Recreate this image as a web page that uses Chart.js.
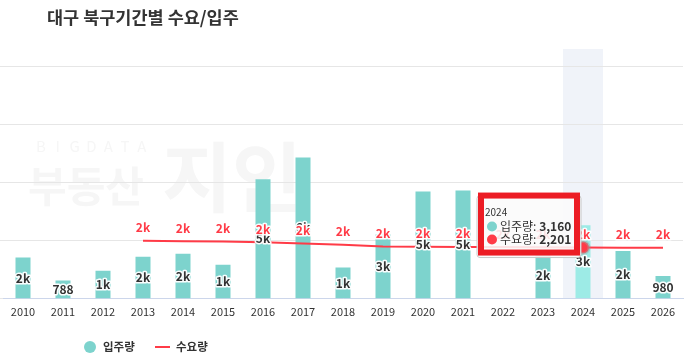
<!DOCTYPE html>
<html>
<head>
<meta charset="utf-8">
<script src="https://cdn.jsdelivr.net/npm/chart.js@4.4.0/dist/chart.umd.min.js"></script>
<style>
  html, body { margin: 0; padding: 0; background: #fff; }
  #wrap { position: relative; width: 684px; height: 361px; }
</style>
</head>
<body>
<div id="wrap"><canvas id="chart"></canvas></div>
<script>
const years = ["2010", "2011", "2012", "2013", "2014", "2015", "2016", "2017", "2018",
  "2019", "2020", "2021", "2022", "2023", "2024", "2025", "2026"];
// 입주량 (bars)
const supply = [1770, 788, 1210, 1810, 1940, 1460, 5130, 6070, 1340, 2760, 4610, 4650, null, 1980, 3160, 2050, 980];
// 수요량 (line)
const demand = [null, null, null, 2490, 2475, 2460, 2430, 2380, 2320, 2250, 2240, 2230, 2220, 2210, 2201, 2195, 2190];
const yTicks = [0, 2500, 5000, 7500, 10000];

const titleText = "대구 북구기간별 수요/입주";
const activeIdx = years.indexOf("2024");

const FONT = '"Noto Sans CJK KR", "Noto Sans", sans-serif';
const barColor = "#7dd3cd";
const barHover = "#9debe6";
const lineColor = "#ff3b47";

function shortNum(v) {
  if (v < 1000) return String(v);
  return Math.round(v / 1000) + "k";
}

function haloText(ctx, text, x, y, color) {
  ctx.lineJoin = "round";
  ctx.strokeStyle = "rgba(255,255,255,0.95)";
  ctx.lineWidth = 3;
  ctx.strokeText(text, x, y);
  ctx.fillStyle = color;
  ctx.fillText(text, x, y);
}

const backdrop = {
  id: "backdrop",
  beforeDraw(chart) {
    const { ctx, chartArea, scales } = chart;
    ctx.save();
    // watermark
    ctx.fillStyle = "#f6f6f6";
    ctx.textBaseline = "alphabetic";
    ctx.textAlign = "center";
    ctx.font = "15px " + FONT;
    const letters = "BIGDATA";
    for (let i = 0; i < letters.length; i++) ctx.fillText(letters[i], 41 + i * 16.8, 152);
    ctx.textAlign = "left";
    ctx.font = "bold 42px " + FONT;
    ctx.fillText("부동산", 28, 202);
    ctx.font = "bold 76px " + FONT;
    ctx.fillText("지인", 162, 206);
    // hover band
    const x = scales.x.getPixelForValue(activeIdx);
    const w = (chartArea.right - chartArea.left) / years.length;
    ctx.fillStyle = "#f0f3f9";
    ctx.fillRect(x - w / 2, chartArea.top - 17, w, chartArea.bottom - chartArea.top + 17);
    ctx.restore();
  }
};

const labels = {
  id: "labels",
  afterDatasetsDraw(chart) {
    const { ctx } = chart;
    ctx.save();
    ctx.textAlign = "center";
    ctx.textBaseline = "middle";
    ctx.font = "600 12px " + FONT;
    chart.getDatasetMeta(0).data.forEach((el, i) => {
      if (supply[i] == null) return;
      haloText(ctx, shortNum(supply[i]), el.x, (el.y + el.base) / 2, "#333");
    });
    chart.getDatasetMeta(1).data.forEach((el, i) => {
      if (demand[i] == null) return;
      haloText(ctx, shortNum(demand[i]), el.x, el.y - 13, lineColor);
    });
    ctx.restore();
  },
  afterDraw(chart) {
    const { ctx } = chart;
    ctx.save();
    // title
    ctx.fillStyle = "#333";
    ctx.font = "600 17.5px " + FONT;
    ctx.textBaseline = "middle";
    ctx.textAlign = "left";
    ctx.fillText(titleText, 47, 17);

    // legend
    const ly = 347;
    ctx.font = "bold 11.5px " + FONT;
    ctx.fillStyle = barColor;
    ctx.beginPath();
    ctx.arc(90, ly, 6, 0, Math.PI * 2);
    ctx.fill();
    ctx.fillStyle = "#333";
    ctx.fillText(chart.data.datasets[0].label, 103, ly);
    ctx.strokeStyle = lineColor;
    ctx.lineWidth = 2;
    ctx.beginPath();
    ctx.moveTo(155, ly);
    ctx.lineTo(170, ly);
    ctx.stroke();
    ctx.fillStyle = "#333";
    ctx.fillText(chart.data.datasets[1].label, 176, ly);

    // tooltip for active year
    const pt = chart.getDatasetMeta(1).data[activeIdx];
    const bx = pt.x - 106, by = pt.y - 52, bw = 104, bh = 62;
    ctx.fillStyle = "rgba(250,250,250,0.88)";
    ctx.strokeStyle = "#c8c8c8";
    ctx.lineWidth = 1;
    ctx.beginPath();
    ctx.roundRect(bx, by, bw, bh, 3);
    ctx.fill();
    ctx.stroke();
    ctx.fillStyle = "#333";
    ctx.font = "10px " + FONT;
    ctx.fillText(years[activeIdx], bx + 8, by + 17);
    const rows = [
      [barColor, chart.data.datasets[0].label, supply[activeIdx]],
      [lineColor, chart.data.datasets[1].label, demand[activeIdx]]
    ];
    rows.forEach((r, k) => {
      const ry = by + 31 + k * 13;
      ctx.fillStyle = r[0];
      ctx.beginPath();
      ctx.arc(bx + 15, ry, 5, 0, Math.PI * 2);
      ctx.fill();
      ctx.fillStyle = "#333";
      ctx.font = "12px " + FONT;
      const lab = r[1] + ": ";
      ctx.fillText(lab, bx + 23, ry);
      const lw = ctx.measureText(lab).width;
      ctx.font = "bold 12px " + FONT;
      ctx.fillText(r[2].toLocaleString("en-US"), bx + 23 + lw, ry);
    });
    // red annotation box
    ctx.strokeStyle = "#ec1c24";
    ctx.lineWidth = 6;
    ctx.strokeRect(bx + 4, by, bw - 8, bh - 5);
    ctx.restore();
  }
};

new Chart(document.getElementById("chart"), {
  data: {
    labels: years,
    datasets: [
      {
        type: "bar",
        label: "입주량",
        data: supply,
        order: 1,
        backgroundColor: years.map((y, i) => (i === activeIdx ? barHover : barColor)),
        categoryPercentage: 1,
        barPercentage: 0.375
      },
      {
        type: "line",
        label: "수요량",
        data: demand,
        order: 0,
        borderColor: lineColor,
        borderWidth: 2,
        backgroundColor: lineColor,
        pointRadius: years.map((y, i) => (i === activeIdx ? 6 : 0)),
        pointBorderColor: "rgba(160,160,160,0.45)",
        pointBorderWidth: 3,
        tension: 0
      }
    ]
  },
  options: {
    responsive: true,
    maintainAspectRatio: false,
    animation: false,
    events: [],
    layout: { padding: { top: 66, bottom: 37, left: 0, right: 1 } },
    plugins: {
      legend: { display: false },
      tooltip: { enabled: false },
      title: { display: false }
    },
    scales: {
      x: {
        grid: { color: "transparent", drawOnChartArea: false, drawTicks: false },
        border: { display: true, color: "#ccd6eb", width: 1 },
        ticks: { color: "#333", font: { family: FONT, size: 11 }, padding: 6, maxRotation: 0 }
      },
      y: {
        min: 0,
        max: 10000,
        afterBuildTicks(axis) { axis.ticks = yTicks.map(v => ({ value: v })); },
        grid: { color: "#e6e6e6", tickLength: 3, drawTicks: true },
        border: { display: false },
        ticks: { display: false }
      }
    }
  },
  plugins: [backdrop, labels]
});
</script>
</body>
</html>
